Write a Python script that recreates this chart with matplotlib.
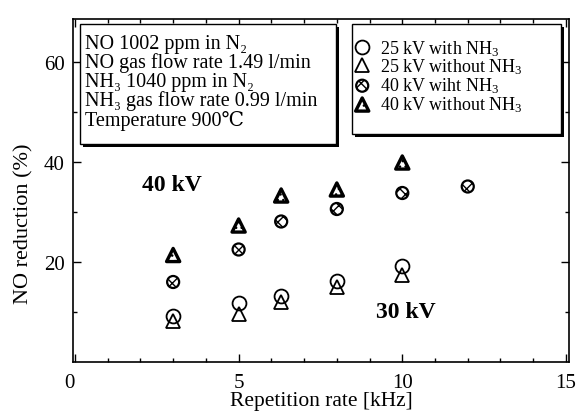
import matplotlib
matplotlib.use('Agg')
import matplotlib.pyplot as plt
import matplotlib.patheffects as pe
from matplotlib.patches import Rectangle

plt.rcParams['font.family'] = ['Liberation Serif', 'DejaVu Serif', 'DejaVu Sans']
plt.rcParams['mathtext.fontset'] = 'custom'
plt.rcParams['mathtext.rm'] = 'Liberation Serif'
plt.rcParams['mathtext.it'] = 'Liberation Serif:italic'
plt.rcParams['mathtext.bf'] = 'Liberation Serif:bold'

# repetition rate [kHz] and NO reduction [%]
rate_25 = [3, 5, 6.3, 8, 10]
with_nh3_25 = [9.2, 11.8, 13.2, 16.2, 19.2]
without_nh3_25 = [8.2, 9.6, 12.0, 15.0, 17.4]

rate_40_with = [3, 5, 6.3, 8, 10, 12]
with_nh3_40 = [16.0, 22.5, 28.1, 30.6, 33.8, 35.1]
rate_40_without = [3, 5, 6.3, 8, 10]
without_nh3_40 = [21.4, 27.3, 33.3, 34.5, 39.9]

labels = ['25 kV with NH$_3$', '25 kV without NH$_3$',
          '40 kV wiht NH$_3$', '40 kV without NH$_3$']
info_lines = ['NO 1002 ppm in N\u2082',
              'NO gas flow rate 1.49 l/min',
              'NH\u2083 1040 ppm in N\u2082',
              'NH\u2083 gas flow rate 0.99 l/min',
              'Temperature 900\u2103']

fig = plt.figure(figsize=(5.82, 4.14), dpi=100)
ax = fig.add_axes([0.1254, 0.1232, 0.8521, 0.8285])

h1, = ax.plot(rate_25, with_nh3_25, 'o', ms=10, mfc='none', mec='k', mew=1.3)
h2, = ax.plot(rate_25, without_nh3_25, '^', ms=10, mfc='none', mec='k', mew=1.3)
h3 = ax.scatter(rate_40_with, with_nh3_40, marker='o', s=75, facecolor='white',
                edgecolor='k', linewidth=1.6, hatch='xxx', zorder=3)
h4 = ax.scatter(rate_40_without, without_nh3_40, marker='^', s=90, facecolor='white',
                edgecolor='k', linewidth=2.4, hatch='...', zorder=3)

ax.text(2.95, 35.4, '40 kV', fontsize=17, fontweight='bold', ha='center', va='center')
ax.text(10.1, 10.0, '30 kV', fontsize=17, fontweight='bold', ha='center', va='center')

ax.set_xlim(-0.06, 15.09)
ax.set_ylim(0, 68.6)
ax.set_xticks([0, 5, 10, 15])
ax.set_xticks(range(0, 16), minor=True)
ax.set_yticks([20, 40, 60])
ax.set_yticks([10, 30, 50], minor=True)
ax.tick_params(which='both', direction='in', top=True, right=True, labelsize=15)
ax.tick_params(which='major', length=6, width=1)
ax.tick_params(which='minor', length=3, width=1)
ax.tick_params(axis='x', pad=8)
ax.tick_params(axis='y', pad=6)
ax.xaxis.get_major_ticks()[0].label1.set_horizontalalignment('right')
for s in ax.spines.values():
    s.set_linewidth(1.2)

ax.set_xlabel('Repetition rate [kHz]', fontsize=15.5, labelpad=-1)
ax.set_ylabel('NO reduction (%)', fontsize=16)
ax.yaxis.set_label_coords(-0.08, 0.405)

shadow = [pe.SimplePatchShadow(offset=(2, -2), shadow_rgbFace='k', alpha=1), pe.Normal()]

# info box
box = Rectangle((0.014, 0.636), 0.517, 0.349, transform=ax.transAxes,
                facecolor='white', edgecolor='k', lw=1, zorder=4)
box.set_path_effects(shadow)
ax.add_patch(box)
ax.text(0.024, 0.956, '\n'.join(info_lines), transform=ax.transAxes, fontsize=14.5,
        va='top', ha='left', linespacing=0.965, zorder=5)

# legend box
lbox = Rectangle((0.563, 0.665), 0.421, 0.32, transform=ax.transAxes,
                 facecolor='white', edgecolor='k', lw=1, zorder=4)
lbox.set_path_effects(shadow)
ax.add_patch(lbox)
leg = ax.legend([h1, h2, h3, h4], labels, loc='upper left',
                bbox_to_anchor=(0.565, 0.945), fontsize=13, frameon=False,
                handlelength=1.0, handletextpad=0.5, labelspacing=-0.05,
                borderpad=0, borderaxespad=0)
leg.set_zorder(5)

fig.savefig('out.png', dpi=100)
